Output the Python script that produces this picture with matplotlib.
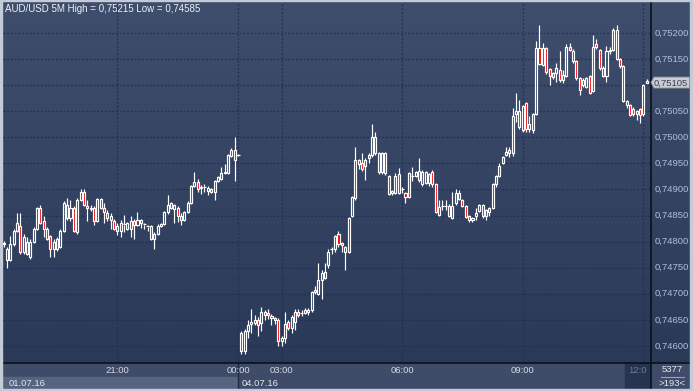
import numpy as np
import matplotlib
matplotlib.use("Agg")
import matplotlib.pyplot as plt
from matplotlib.patches import Rectangle, Polygon
from matplotlib.colors import LinearSegmentedColormap

plt.rcParams['font.family'] = ['Liberation Sans', 'DejaVu Sans']

# AUD/USD 5M candles, prices in points (1e-5)
open_pts = [
    74797, 74785, 74765, 74795, 74820, 74830, 74780, 74800, 74771, 74800,
    74825, 74865, 74840, 74825, 74810, 74785, 74806, 74790, 74820, 74870,
    74845, 74865, 74818, 74880, 74895, 74865, 74864, 74865, 74840, 74881,
    74865, 74854, 74850, 74840, 74830, 74820, 74833, 74835, 74825, 74840,
    74832, 74841, 74833, 74830, 74830, 74806, 74815, 74830, 74834, 74856,
    74874, 74862, 74865, 74850, 74841, 74856, 74875, 74906, 74915, 74902,
    74905, 74898, 74900, 74895, 74916, 74920, 74934, 74931, 74965, 74976,
    74966,
    74625, 74591, 74628, 74643, 74644, 74650, 74644, 74665, 74663, 74658,
    74654, 74650, 74609, 74615, 74645, 74635, 74645, 74665, 74664, 74664,
    74665, 74668, 74708, 74700, 74726, 74730, 74755, 74785, 74785, 74815,
    74797, 74790, 74780, 74849, 74883, 74956, 74950, 74945, 74960, 74966,
    75000, 74970, 74934, 74970, 74925, 74893, 74894, 74930, 74900, 74894,
    74885, 74925, 74926, 74935, 74910, 74913, 74930, 74934, 74910, 74851,
    74869, 74869, 74869, 74845, 74874, 74894, 74880, 74868, 74849, 74841,
    74849, 74858, 74870, 74849, 74856, 74865, 74911, 74926, 74951, 74967,
    74976, 74969, 75044, 75050, 75014, 75065, 75015, 75014, 75044, 75171,
    75138, 75171, 75131, 75115, 75124, 75129, 75110, 75117, 75174, 75165,
    75146, 75113, 75100, 75097, 75117, 75088, 75178, 75167, 75133, 75117,
    75165, 75167, 75206, 75150, 75136, 75069, 75062, 75055, 75045, 75054,
    75045, 75108,
]
high_pts = [
    74801, 74790, 74810, 74825, 74855, 74855, 74815, 74808, 74805, 74828,
    74867, 74870, 74850, 74828, 74812, 74805, 74808, 74825, 74878, 74884,
    74880, 74868, 74883, 74900, 74900, 74880, 74870, 74868, 74883, 74883,
    74875, 74860, 74855, 74843, 74835, 74841, 74851, 74838, 74850, 74843,
    74856, 74843, 74836, 74832, 74832, 74818, 74833, 74836, 74858, 74889,
    74876, 74873, 74868, 74855, 74858, 74877, 74908, 74934, 74920, 74908,
    74910, 74906, 74902, 74918, 74926, 74944, 74948, 74968, 74980, 75000,
    74968,
    74629, 74632, 74649, 74670, 74660, 74655, 74674, 74668, 74670, 74662,
    74656, 74653, 74620, 74666, 74650, 74660, 74670, 74670, 74668, 74672,
    74673, 74705, 74715, 74760, 74745, 74760, 74785, 74790, 74812, 74820,
    74800, 74792, 74848, 74887, 74981, 74958, 74969, 74960, 74970, 75026,
    75011, 74972, 74972, 74972, 74928, 74899, 74931, 74942, 74904, 74896,
    74934, 74943, 74936, 74960, 74937, 74936, 74932, 74937, 74912, 74880,
    74880, 74880, 74873, 74895, 74900, 74899, 74882, 74870, 74851, 74848,
    74865, 74872, 74873, 74862, 74867, 74913, 74928, 74951, 74964, 74982,
    74982, 75056, 75085, 75072, 75062, 75067, 75040, 75046, 75184, 75215,
    75181, 75173, 75133, 75126, 75142, 75165, 75130, 75178, 75181, 75170,
    75148, 75115, 75113, 75116, 75120, 75197, 75188, 75169, 75136, 75176,
    75174, 75210, 75215, 75152, 75138, 75072, 75064, 75058, 75053, 75056,
    75103, 75112,
]
low_pts = [
    74790, 74750, 74763, 74792, 74818, 74776, 74776, 74774, 74766, 74798,
    74823, 74833, 74809, 74803, 74770, 74770, 74783, 74788, 74818, 74842,
    74840, 74818, 74815, 74878, 74868, 74840, 74858, 74831, 74838, 74862,
    74835, 74840, 74825, 74822, 74812, 74809, 74819, 74822, 74809, 74806,
    74830, 74826, 74825, 74820, 74804, 74785, 74812, 74828, 74832, 74853,
    74862, 74835, 74838, 74831, 74839, 74854, 74873, 74904, 74895, 74892,
    74896, 74890, 74893, 74880, 74914, 74918, 74929, 74929, 74963, 74916,
    74964,
    74585, 74585, 74615, 74625, 74640, 74620, 74628, 74650, 74652, 74640,
    74642, 74600, 74600, 74605, 74630, 74625, 74630, 74655, 74658, 74662,
    74660, 74665, 74700, 74698, 74690, 74728, 74750, 74777, 74780, 74790,
    74780, 74745, 74778, 74847, 74880, 74940, 74935, 74919, 74950, 74963,
    74966, 74930, 74930, 74928, 74890, 74890, 74892, 74892, 74894, 74874,
    74883, 74917, 74924, 74915, 74906, 74911, 74906, 74905, 74855, 74849,
    74860, 74860, 74848, 74843, 74870, 74879, 74866, 74845, 74838, 74838,
    74842, 74856, 74846, 74842, 74850, 74862, 74905, 74924, 74949, 74965,
    74963, 74965, 75030, 75015, 75010, 75011, 75011, 75009, 75042, 75138,
    75136, 75122, 75100, 75112, 75107, 75107, 75105, 75115, 75165, 75143,
    75110, 75081, 75097, 75095, 75083, 75086, 75170, 75130, 75115, 75107,
    75160, 75165, 75148, 75133, 75067, 75056, 75040, 75040, 75033, 75027,
    75040, 75104,
]
close_pts = [
    74795, 74765, 74795, 74820, 74835, 74780, 74808, 74776, 74800, 74825,
    74865, 74835, 74825, 74806, 74785, 74800, 74785, 74820, 74875, 74845,
    74865, 74820, 74880, 74895, 74870, 74868, 74862, 74840, 74881, 74865,
    74857, 74845, 74841, 74825, 74820, 74835, 74832, 74825, 74840, 74832,
    74841, 74835, 74832, 74829, 74806, 74815, 74830, 74834, 74856, 74870,
    74865, 74870, 74850, 74841, 74856, 74875, 74906, 74915, 74900, 74905,
    74904, 74903, 74895, 74916, 74924, 74931, 74931, 74966, 74976, 74956,
    74966,
    74591, 74628, 74641, 74646, 74650, 74641, 74665, 74660, 74660, 74654,
    74650, 74609, 74615, 74642, 74635, 74655, 74665, 74660, 74664, 74669,
    74669, 74703, 74703, 74726, 74740, 74742, 74780, 74785, 74810, 74795,
    74793, 74780, 74845, 74885, 74956, 74949, 74940, 74956, 74966, 75000,
    74970, 74934, 74970, 74931, 74892, 74897, 74926, 74894, 74900, 74885,
    74931, 74926, 74934, 74918, 74934, 74934, 74913, 74910, 74857, 74867,
    74869, 74869, 74850, 74869, 74894, 74881, 74868, 74847, 74841, 74845,
    74855, 74870, 74849, 74860, 74865, 74911, 74926, 74945, 74962, 74971,
    74969, 75040, 75050, 75019, 75060, 75015, 75026, 75044, 75171, 75140,
    75171, 75126, 75117, 75123, 75133, 75110, 75120, 75174, 75167, 75146,
    75113, 75091, 75110, 75113, 75085, 75174, 75174, 75133, 75117, 75165,
    75167, 75206, 75150, 75136, 75069, 75062, 75043, 75045, 75051, 75043,
    75101, 75105,
]

price_ticks = [0.746, 0.7465, 0.747, 0.7475, 0.748, 0.7485, 0.749,
               0.7495, 0.750, 0.7505, 0.751, 0.7515, 0.752]
time_bars = [34, 70, 83, 119, 155, 191]
time_labels = ["21:00", "00:00", "03:00", "06:00", "09:00", "12:00"]
last_price = 0.75105
title = "AUD/USD 5M High = 0,75215 Low = 0,74585"

o = np.array(open_pts) / 1e5
h = np.array(high_pts) / 1e5
l = np.array(low_pts) / 1e5
c = np.array(close_pts) / 1e5
n = len(o)

W, H = 693, 391
fig = plt.figure(figsize=(W / 100, H / 100), dpi=100)

# pixel-space layer for frame, panels and labels
bg = fig.add_axes([0, 0, 1, 1])
bg.set_xlim(0, W)
bg.set_ylim(H, 0)
bg.axis("off")

cmap = LinearSegmentedColormap.from_list("bg", ["#404e6d", "#2b3958"])
bg.imshow(np.linspace(0, 1, 256).reshape(-1, 1), cmap=cmap,
          extent=[0, W, 363, 0], aspect="auto", zorder=0)

# bottom time strip
bg.add_patch(Rectangle((0, 363), W, 28, color="#3e4b69", zorder=1))
bg.add_patch(Rectangle((3, 377), 234, 12, color="#56647f", zorder=1))
bg.add_patch(Rectangle((625, 363), 25, 26, color="#27344f", zorder=1))
bg.plot([237.5, 237.5], [363, 389], color="#1d2b48", lw=1, zorder=2)
bg.plot([0, W], [362.5, 362.5], color="#0c1018", lw=1.2, zorder=5)
bg.plot([650.5, 650.5], [0, 389], color="#0c1018", lw=1.2, zorder=5)

# outer frame
fc = "#c3cbd7"
bg.add_patch(Rectangle((0, 0), 2, H, color=fc, zorder=6))
bg.add_patch(Rectangle((690, 0), 3, H, color=fc, zorder=6))
bg.add_patch(Rectangle((0, 389), W, 2, color=fc, zorder=6))
bg.add_patch(Rectangle((0, 0), W, 1, color=fc, zorder=6))

bg.text(5, 9, title, color="#eef0f4", fontsize=7, va="center", ha="left", zorder=7)
bg.text(9, 383, "01.07.16", color="#e4e8ee", fontsize=6.8, va="center", zorder=7)
bg.text(242, 383, "04.07.16", color="#e4e8ee", fontsize=6.8, va="center", zorder=7)
bg.text(628, 370.5, "12:0", color="#6f7a90", fontsize=6.8, va="center", zorder=7)
bg.text(672, 369.5, "5377", color="#e4e8ee", fontsize=6.8, va="center", ha="center", zorder=7)
bg.plot([661, 684], [376.5, 376.5], color="#9aa6b8", lw=0.8, zorder=7)
bg.text(672, 383, ">193<", color="#e4e8ee", fontsize=6.8, va="center", ha="center", zorder=7)

# price chart
ax = fig.add_axes([3 / W, (H - 362) / H, 647 / W, 360 / H])
ax.patch.set_alpha(0)
px_per_bar = 3.35
ax.set_xlim(-0.5 / px_per_bar, 646.5 / px_per_bar)
pp = 0.0005 / 26.08  # price per pixel
ax.set_ylim(0.752 - 329 * pp, 0.752 + 31 * pp)
for s in ax.spines.values():
    s.set_visible(False)
ax.set_xticks([])
ax.set_yticks([])

grid_c = "#1d3157"
for p in price_ticks:
    ax.axhline(p, color=grid_c, lw=0.9, ls=(0, (1.5, 1.5)), zorder=1)
for b in time_bars:
    ax.axvline(b, color=grid_c, lw=0.9, ls=(0, (1.5, 1.5)), zorder=1)

bw = 0.6
for i in range(n):
    top, bot = max(o[i], c[i]), min(o[i], c[i])
    ax.vlines(i, top, h[i], color="white", lw=0.85, zorder=3)
    ax.vlines(i, l[i], bot, color="white", lw=0.85, zorder=3)
    if top - bot < 1.5e-5:
        ax.hlines(o[i], i - 0.45, i + 0.45, color="white", lw=0.85, zorder=4)
    else:
        face = "#f00000" if c[i] < o[i] else "none"
        ax.add_patch(Rectangle((i - bw / 2, bot), bw, top - bot, facecolor=face,
                               edgecolor="white", lw=0.85, zorder=4))

ytr = ax.get_yaxis_transform()
for p in price_ticks:
    if abs(p - last_price) < 0.0002:
        continue  # hidden under the current price marker
    ax.text((655 - 3) / 647, p, f"{p:.5f}".replace(".", ","), transform=ytr,
            color="#a9c1e2", fontsize=6.8, va="center", ha="left", clip_on=False)

xtr = ax.get_xaxis_transform()
for b, lab in zip(time_bars[:-1], time_labels[:-1]):
    ax.text(b, -8.5 / 360, lab, transform=xtr, color="#d6dbe4", fontsize=6.8,
            va="center", ha="center", clip_on=False)

# current price marker
yl = 362 - (last_price - ax.get_ylim()[0]) / pp
bg.add_patch(Polygon([(651, yl), (654, yl - 5.5), (689.5, yl - 5.5), (689.5, yl + 5.5),
                      (654, yl + 5.5)], closed=True, facecolor="#c9cdd3",
                     edgecolor="#8a909a", lw=0.6, zorder=7))
bg.text(654, yl + 0.3, f"{last_price:.5f}".replace(".", ","), color="#3a4250",
        fontsize=6.8, va="center", ha="left", zorder=8)

fig.savefig("out.png", dpi=100)
